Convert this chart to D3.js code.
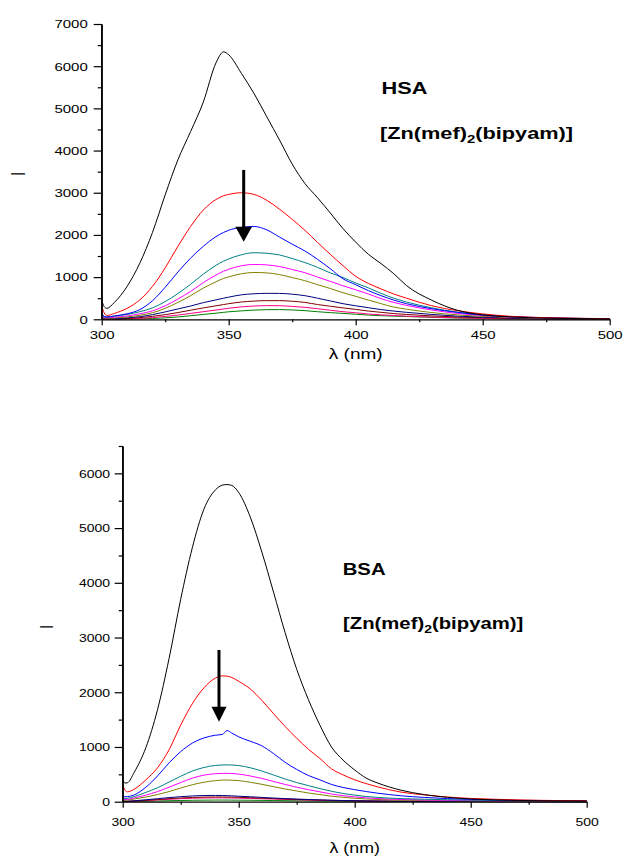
<!DOCTYPE html>
<html><head><meta charset="utf-8">
<script src="https://cdn.jsdelivr.net/npm/d3@7"></script>
<style>
html,body{margin:0;padding:0;background:#fff;}
svg{display:block;font-family:"Liberation Sans",Arial,sans-serif;}
</style></head>
<body>
<svg id="chart" width="624" height="858"></svg>
<script>
// ---------- DATA: HSA panel ----------
const hsaWavelengths = [300,301,302,305,310,315,320,325,330,335,340,345,348,350,355,360,365,370,375,380,385,390,395,400,405,410,415,420,430,440,450,460,470,480,490,500];
const hsaBlack   = [450,300,260,400,780,1330,2060,2950,3780,4450,5150,6080,6340,6270,5830,5350,4800,4250,3680,3220,2880,2520,2150,1830,1540,1320,1080,800,450,215,105,60,35,22,15,10];
const hsaRed     = [320,150,90,140,260,460,780,1220,1730,2200,2590,2840,2930,2960,3000,2960,2820,2610,2370,2110,1820,1540,1270,1020,850,720,600,500,320,205,128,75,47,32,22,16];
const hsaBlue    = [150,70,55,80,130,230,440,760,1120,1450,1730,1960,2060,2110,2180,2200,2120,1950,1780,1620,1420,1200,960,820,680,560,455,370,250,165,100,65,45,30,20,15];
const hsaTeal    = [80,60,55,75,115,180,270,420,610,830,1070,1280,1380,1430,1530,1578,1565,1525,1440,1345,1230,1100,990,860,745,615,500,410,270,170,105,65,40,28,18,12];
const hsaMagenta = [55,42,38,50,80,130,200,320,480,660,870,1050,1140,1185,1270,1300,1290,1250,1180,1105,1000,900,795,700,600,490,400,330,220,140,90,55,35,22,15,10];
const hsaOlive   = [40,30,25,32,55,95,155,260,400,560,740,890,970,1005,1080,1110,1100,1060,990,915,820,730,630,545,455,370,290,240,160,105,70,45,30,20,12,8];
const hsaNavy    = [20,12,10,15,35,62,110,175,245,315,395,460,500,525,580,605,615,614,595,560,500,435,370,320,275,230,195,165,115,75,50,32,20,13,8,5];
const hsaWine    = [10,5,3,8,20,40,70,110,160,215,270,320,350,370,410,432,442,442,428,400,350,310,270,235,195,165,135,115,80,55,36,24,15,10,6,4];
const hsaPink    = [8,4,2,5,12,22,40,68,100,140,180,220,245,262,295,315,324,322,305,284,250,215,180,155,125,105,90,75,52,35,23,15,10,6,4,2];
const hsaGreen   = [5,2,0,2,5,10,20,35,55,85,115,145,165,178,200,218,228,230,222,205,180,158,140,120,100,85,75,65,45,30,20,13,8,5,3,2];

// ---------- DATA: BSA panel ----------
const bsaWavelengths = [300,301,302,305,310,315,320,325,330,335,340,343,345,347,350,355,360,365,370,375,380,385,390,395,400,405,410,420,430,440,450,460,470,480,490,500];
const bsaBlack   = [400,340,345,540,990,1680,2620,3700,4640,5345,5700,5785,5795,5780,5650,5200,4560,3830,3090,2420,1870,1400,1000,760,580,430,340,210,130,80,50,33,23,17,14,12];
const bsaRed     = [320,210,180,230,400,620,950,1400,1790,2080,2260,2300,2295,2270,2200,2060,1850,1610,1375,1160,960,790,600,490,400,330,270,175,125,85,60,45,33,25,20,18];
const bsaBlue    = [100,90,92,125,265,470,710,915,1070,1165,1215,1230,1300,1255,1185,1105,1020,880,720,590,480,400,315,260,220,185,155,108,78,57,42,32,26,22,19,17];
const bsaTeal    = [65,60,62,95,170,255,360,465,560,625,663,672,673,671,660,620,560,488,415,350,295,240,190,150,120,95,78,57,45,36,29,22,17,14,12,10];
const bsaMagenta = [45,40,42,70,120,185,265,350,430,485,512,518,518,515,505,470,425,370,315,265,220,180,140,110,88,70,57,40,30,24,19,15,12,10,9,8];
const bsaOlive   = [30,28,30,50,85,130,185,250,310,355,385,395,396,393,385,355,318,275,232,195,160,130,100,80,63,50,40,28,21,16,12,9,7,6,5,5];
const bsaNavy    = [12,10,10,18,35,55,75,92,105,113,115,113,110,107,100,90,78,67,57,48,40,33,27,22,18,15,12,8,6,4,3,2,2,1,1,1];
const bsaWine    = [8,6,6,12,25,40,55,68,78,84,86,86,85,84,80,73,65,57,49,42,35,29,24,20,16,13,11,8,6,4,3,2,2,1,1,1];
const bsaPink    = [6,5,5,10,20,32,44,55,63,68,70,70,69,68,65,60,54,48,42,36,30,25,20,17,14,11,9,7,5,4,3,2,2,1,1,1];
const bsaGreen   = [3,2,2,4,8,13,18,22,26,28,30,30,30,29,28,26,24,21,19,16,14,12,10,8,7,6,5,4,3,2,2,1,1,1,1,1];

const seriesColors = ["#000000","#ff0000","#0000ff","#008080","#ff00ff","#808000","#000080","#800000","#ff0080","#008000"];

const xTicks = [300,350,400,450,500];
const xMinorTicks = [325,375,425,475];
const hsaYTicks = [0,1000,2000,3000,4000,5000,6000,7000];
const hsaYMinor = [500,1500,2500,3500,4500,5500,6500];
const bsaYTicks = [0,1000,2000,3000,4000,5000,6000];
const bsaYMinor = [500,1500,2500,3500,4500,5500,6500];

// arrows: [x (nm), top value, tip value, head-base value]
const hsaArrow = [355.9, 3540, 1840, 2194];
const bsaArrow = [341.5, 2773, 1462, 1737];

// ---------- DRAW ----------
const svg = d3.select("#chart");
const FONT = '"Liberation Sans",Arial,sans-serif';

function panel(cfg){
  const g = svg.append("g");
  const x = d3.scaleLinear().domain([300,500]).range([cfg.x0, cfg.x1]);
  const y = d3.scaleLinear().domain([0, cfg.ymax]).range([cfg.y0, cfg.y1]);
  const sx = cfg.sx;

  // curves
  const line = d3.line().x(d=>x(d[0])).y(d=>y(d[1])).curve(d3.curveMonotoneX);
  const order = d3.range(cfg.series.length).reverse();
  order.forEach(i=>{
    const pts = cfg.wl.map((w,k)=>[w, cfg.series[i][k]]);
    g.append("path").attr("d", line(pts)).attr("fill","none")
      .attr("stroke", seriesColors[i]).attr("stroke-width",1);
  });

  // axes
  const yAx = g.append("g").attr("transform",`translate(${cfg.x0},0)`)
    .call(d3.axisLeft(y).tickValues(cfg.yTicks).tickSizeInner(8).tickSizeOuter(0).tickFormat(d3.format("d")));
  yAx.select(".domain").attr("stroke-width",1.3);
  yAx.selectAll(".tick line").attr("stroke-width",1.2);
  yAx.selectAll(".tick text").attr("font-size",11).attr("font-family",FONT).attr("fill","#000")
    .attr("x", -cfg.ylabOff/sx).attr("dy","0.35em").attr("transform",`scale(${sx},1)`);
  const yMin = g.append("g").attr("transform",`translate(${cfg.x0},0)`)
    .call(d3.axisLeft(y).tickValues(cfg.yMinor).tickSizeInner(4).tickSizeOuter(0).tickFormat(""));
  yMin.select(".domain").remove();
  yMin.selectAll(".tick line").attr("stroke-width",1.2);
  g.append("line").attr("x1",cfg.x0).attr("x2",cfg.x0).attr("y1",cfg.y1).attr("y2",cfg.y0).attr("stroke","#000").attr("stroke-width",1.3);

  const xAx = g.append("g").attr("transform",`translate(0,${cfg.y0})`)
    .call(d3.axisBottom(x).tickValues(xTicks).tickSizeInner(6).tickSizeOuter(0).tickFormat(d3.format("d")));
  xAx.select(".domain").attr("stroke-width",1.3);
  xAx.selectAll(".tick line").attr("stroke-width",1.2);
  xAx.selectAll(".tick text").attr("font-size",11).attr("font-family",FONT).attr("fill","#000")
    .attr("y", cfg.xlabOff).attr("dy",0).attr("transform",`scale(${sx},1)`);
  const xMin = g.append("g").attr("transform",`translate(0,${cfg.y0})`)
    .call(d3.axisBottom(x).tickValues(xMinorTicks).tickSizeInner(3).tickSizeOuter(0).tickFormat(""));
  xMin.select(".domain").remove();
  xMin.selectAll(".tick line").attr("stroke-width",1.2);

  // axis titles
  g.append("text").attr("transform",`translate(${(cfg.x0+cfg.x1)/2},${cfg.xtY}) scale(${sx},1)`)
    .attr("text-anchor","middle").attr("font-size",14).attr("font-family",FONT).text("λ (nm)");
  g.append("text").attr("transform",`translate(${cfg.ytX},${cfg.ytY}) scale(${sx},1) rotate(-90)`)
    .attr("text-anchor","middle").attr("dy","0.35em").attr("font-size",15).attr("font-family",FONT).text("I");

  // arrow
  const a = cfg.arrow;
  g.append("line").attr("x1",x(a[0])).attr("x2",x(a[0])).attr("y1",y(a[1])).attr("y2",y(a[3])+1)
    .attr("stroke","#000").attr("stroke-width",3);
  const hw = cfg.headHalf;
  g.append("path").attr("d",`M${x(a[0])-hw},${y(a[3])}L${x(a[0])+hw},${y(a[3])}L${x(a[0])},${y(a[2])}Z`).attr("fill","#000");

  // labels
  g.append("text").attr("transform",`translate(${cfg.lab1[0]},${cfg.lab1[1]}) scale(${sx},1)`)
    .attr("font-size",16).attr("font-weight","bold").attr("font-family",FONT).text(cfg.protein);
  const t = g.append("text").attr("transform",`translate(${cfg.lab2[0]},${cfg.lab2[1]}) scale(${sx},1)`)
    .attr("font-size",16).attr("font-weight","bold").attr("font-family",FONT);
  t.append("tspan").text("[Zn(mef)");
  t.append("tspan").attr("font-size",11).attr("dy",4).text("2");
  t.append("tspan").attr("dy",-4).text("(bipyam)]");
}

panel({x0:101.7,x1:609.7,y0:319.3,y1:24,ymax:7000,sx:1.36,
  wl:hsaWavelengths,
  series:[hsaBlack,hsaRed,hsaBlue,hsaTeal,hsaMagenta,hsaOlive,hsaNavy,hsaWine,hsaPink,hsaGreen],
  yTicks:hsaYTicks,yMinor:hsaYMinor,ylabOff:14,xlabOff:20,xtY:359,ytX:18,ytY:174,
  arrow:hsaArrow,headHalf:8.3,protein:"HSA",lab1:[381.5,94.3],lab2:[380,139]});

panel({x0:122.7,x1:586.7,y0:801.7,y1:446,ymax:6500,sx:1.27,
  wl:bsaWavelengths,
  series:[bsaBlack,bsaRed,bsaBlue,bsaTeal,bsaMagenta,bsaOlive,bsaNavy,bsaWine,bsaPink,bsaGreen],
  yTicks:bsaYTicks,yMinor:bsaYMinor,ylabOff:12.7,xlabOff:24,xtY:853,ytX:46,ytY:627,
  arrow:bsaArrow,headHalf:7.5,protein:"BSA",lab1:[342.7,574.5],lab2:[343,629]});
</script>
</body></html>
